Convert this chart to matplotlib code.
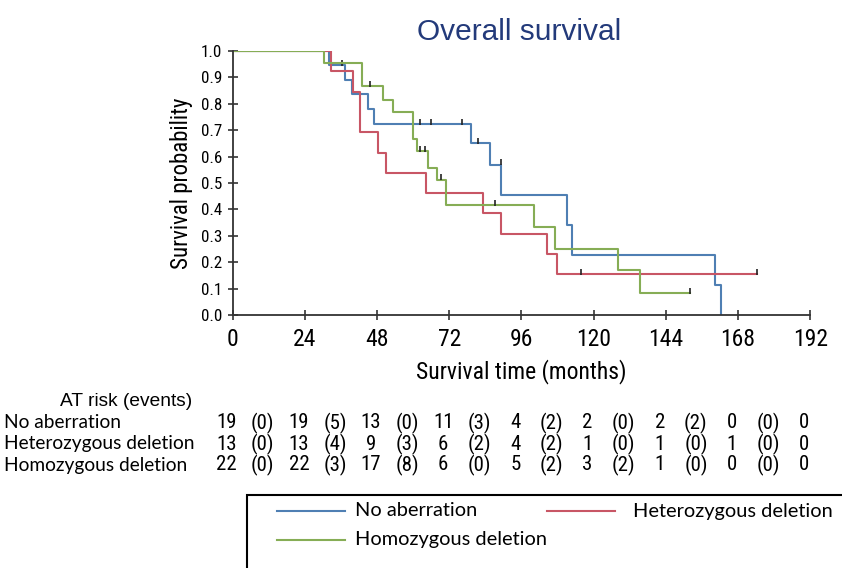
import matplotlib
matplotlib.use('Agg')
import matplotlib.pyplot as plt
from matplotlib.lines import Line2D
from matplotlib.patches import Rectangle
import matplotlib.transforms as mtransforms
from matplotlib import font_manager

# survival curves (months, survival probability)
no_ab_t = [0, 31.9, 37.4, 39.7, 44.9, 46.9, 79.1, 85.5, 89.3, 111.0, 112.9, 160.2, 162.2]
no_ab_s = [1.0, 0.947, 0.891, 0.836, 0.780, 0.724, 0.652, 0.570, 0.456, 0.342, 0.228, 0.114, 0.0]
no_ab_cens_t = [36.3, 62.4, 65.8, 76.3, 81.7, 89.1]
no_ab_cens_s = [0.947, 0.724, 0.724, 0.724, 0.652, 0.570]

het_t = [0, 32.7, 40.0, 42.2, 48.4, 51.1, 64.1, 83.3, 89.1, 104.6, 107.7, 174.4]
het_s = [1.0, 0.923, 0.846, 0.692, 0.615, 0.538, 0.462, 0.385, 0.308, 0.231, 0.154, 0.154]
het_cens_t = [115.9, 174.4]
het_cens_s = [0.154, 0.154]

hom_t = [0, 30.4, 43.0, 50.0, 53.3, 60.0, 61.3, 64.9, 67.8, 70.8, 100.3, 107.3, 128.2, 135.3, 152.1]
hom_s = [1.0, 0.955, 0.866, 0.815, 0.769, 0.665, 0.621, 0.558, 0.513, 0.418, 0.333, 0.251, 0.171, 0.082, 0.082]
hom_cens_t = [45.5, 62.4, 63.9, 69.3, 87.2, 152.1]
hom_cens_s = [0.866, 0.621, 0.621, 0.513, 0.418, 0.082]

# at-risk table
groups = ['No aberration', 'Heterozygous deletion', 'Homozygous deletion']
at_risk = [[19, 19, 13, 11, 4, 2, 2, 0, 0],
           [13, 13, 9, 6, 4, 1, 1, 1, 0],
           [22, 22, 17, 6, 5, 3, 1, 0, 0]]
events = [[0, 5, 0, 3, 2, 0, 2, 0],
          [0, 4, 3, 2, 2, 0, 0, 0],
          [0, 3, 8, 0, 2, 2, 0, 0]]
x_ticks = [0, 24, 48, 72, 96, 120, 144, 168, 192]
y_ticks = [0.0, 0.1, 0.2, 0.3, 0.4, 0.5, 0.6, 0.7, 0.8, 0.9, 1.0]

c_blue = '#4f7fb3'
c_red = '#c85665'
c_green = '#86ad55'

# pick a condensed face if one is there
names = set(f.name for f in font_manager.fontManager.ttflist)
narrow = [n for n in ['Liberation Sans Narrow', 'DejaVu Sans Condensed', 'Roboto Condensed']
          if n in names] + ['Liberation Sans', 'DejaVu Sans']
is_narrow = narrow[0] != 'Liberation Sans'
nsize = 17 if is_narrow else 14
tsize = nsize - 2
calib = ['Lato', 'DejaVu Sans']
arial = ['Liberation Sans', 'DejaVu Sans']

fig = plt.figure(figsize=(8.42, 5.68), dpi=100)
ax = fig.add_axes([0.2764, 0.4454, 0.6858, 0.4648])

for t, s, ct, cs, col in [(no_ab_t, no_ab_s, no_ab_cens_t, no_ab_cens_s, c_blue),
                          (het_t, het_s, het_cens_t, het_cens_s, c_red),
                          (hom_t, hom_s, hom_cens_t, hom_cens_s, c_green)]:
    ax.step(t, s, where='post', color=col, lw=1.5)
    ax.plot(ct, [v + 0.008 for v in cs], linestyle='none', marker='|',
            color='#222222', markersize=5, mew=1.2)

ax.set_xlim(0, 192)
ax.set_ylim(0, 1.0)
ax.set_xticks(x_ticks)
ax.set_yticks(y_ticks)
ax.set_xticklabels([str(v) for v in x_ticks], family=narrow, fontsize=nsize)
ax.set_yticklabels(['%.1f' % v for v in y_ticks], family=narrow, fontsize=nsize * 0.72)
ax.tick_params(direction='inout', length=7, width=1.2, color='#333333')
ax.tick_params(axis='x', pad=6)
ax.tick_params(axis='y', pad=4)
for side in ['top', 'right']:
    ax.spines[side].set_visible(False)
for side in ['left', 'bottom']:
    ax.spines[side].set_linewidth(1.3)
    ax.spines[side].set_color('#333333')

ax.set_xlabel('Survival time (months)', family=narrow, fontsize=nsize, labelpad=6)
ax.set_ylabel('Survival probability', family=narrow, fontsize=nsize - 0.5, labelpad=6)
fig.text(0.617, 1 - 32 / 568, 'Overall survival', ha='center', va='center',
         fontsize=21.5, color='#233a7a', family=arial)

# at-risk table, columns follow the x axis
trans = mtransforms.blended_transform_factory(ax.transData, fig.transFigure)
fig.text(0.150, 1 - 401 / 568, 'AT risk (events)', ha='center', va='center',
         fontsize=13.8, family=arial)
row_y = [1 - 423 / 568, 1 - 444 / 568, 1 - 465 / 568]
for i, g in enumerate(groups):
    fig.text(0.005, row_y[i], g, ha='left', va='center', fontsize=13.8, family=calib)
    for k, n in enumerate(at_risk[i]):
        ax.text(x_ticks[k] - 2, row_y[i], str(n), transform=trans, ha='center',
                va='center', fontsize=tsize, family=narrow)
    for k, e in enumerate(events[i]):
        ax.text(x_ticks[k] + 10, row_y[i], '(%d)' % e, transform=trans, ha='center',
                va='center', fontsize=tsize, family=narrow)

# legend box, cut by the figure edge on the right and bottom
fig.add_artist(Rectangle((247 / 842, -0.05), 0.8, 1 - 495 / 568 + 0.05,
                         transform=fig.transFigure, fill=False, ec='black', lw=1.5))
legend_items = [(groups[0], c_blue, 277, 355, 511),
                (groups[1], c_red, 547, 633, 511),
                (groups[2], c_green, 277, 355, 540)]
for name, col, x0, xt, yy in legend_items:
    fig.add_artist(Line2D([x0 / 842, (x0 + 68) / 842], [1 - yy / 568, 1 - yy / 568],
                          transform=fig.transFigure, color=col, lw=1.5))
    fig.text(xt / 842, 1 - yy / 568, name, ha='left', va='center', fontsize=14.4, family=calib)

fig.savefig('out.png', dpi=100)
